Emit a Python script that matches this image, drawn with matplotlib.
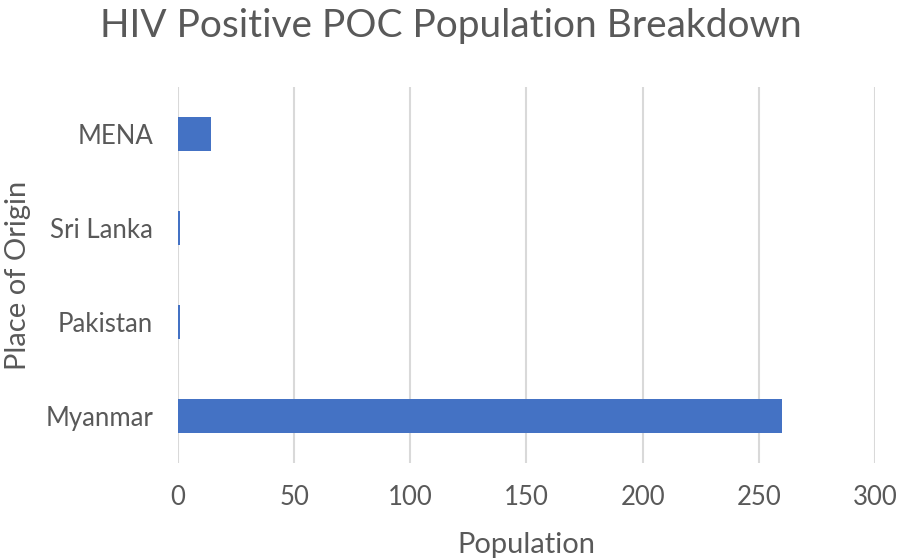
import numpy as np
import matplotlib.pyplot as plt

plt.rcParams['font.family'] = ['Lato', 'DejaVu Sans']

# data
origins = ['Myanmar', 'Pakistan', 'Sri Lanka', 'MENA']
population = [260, 1, 1, 14]
xticks = [0, 50, 100, 150, 200, 250, 300]

grey = '#595959'

fig = plt.figure(figsize=(9.01, 5.6), dpi=100)
ax = fig.add_axes([0.1976, 0.1732, 0.7735, 0.6714])

y = np.arange(len(origins))
ax.barh(y, population, height=0.355, color='#4472C4', zorder=3)

ax.set_xlim(0, 300)
ax.set_ylim(-0.5, len(origins) - 0.5)
ax.set_xticks(xticks)
ax.set_yticks(y)
ax.set_yticklabels(origins)
ax.grid(axis='x', color='#D9D9D9', lw=1.5, zorder=0)
ax.tick_params(length=0, labelsize=18.5, colors=grey)
ax.tick_params(axis='y', pad=18)
ax.tick_params(axis='x', pad=16)
for s in ax.spines.values():
    s.set_visible(False)

ax.set_xlabel('Population', fontsize=21, color=grey, labelpad=16)
ax.set_ylabel('Place of Origin', fontsize=21, color=grey, labelpad=10)
fig.suptitle('HIV Positive POC Population Breakdown', fontsize=28, color=grey, y=0.985)

fig.savefig('out.png', dpi=100)
